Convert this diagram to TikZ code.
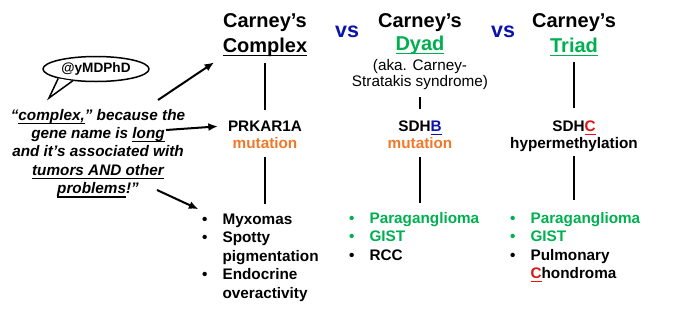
\documentclass[tikz,border=0pt]{standalone}
\usepackage{fontspec}
\setmainfont{Liberation Sans}
\usetikzlibrary{shapes.geometric,arrows.meta}
\definecolor{vsblue}{RGB}{10,20,170}
\definecolor{dyadgreen}{RGB}{0,176,80}
\definecolor{mutorange}{RGB}{240,120,40}
\definecolor{ulred}{RGB}{220,20,20}
\newsavebox{\ulbox}
\newcommand{\ulx}[1]{\sbox\ulbox{#1}\rlap{\rule[-3.9pt]{\wd\ulbox}{1.3pt}}\usebox\ulbox}
\newcommand{\gr}[1]{\textcolor{dyadgreen}{#1}}

\begin{document}
\begin{tikzpicture}[x=1pt,y=-1pt,>={Latex[length=9.5pt,width=8pt]},
    title/.style={font=\bfseries\fontsize{20}{24}\selectfont, anchor=base, inner sep=1pt},
    vs/.style={font=\bfseries\fontsize{21.5}{24}\selectfont, text=vsblue, anchor=base, inner sep=1pt},
    body/.style={font=\bfseries\fontsize{15.3}{18.4}\selectfont, anchor=base, inner sep=1pt},
    note/.style={font=\fontsize{15.3}{18.4}\selectfont, anchor=base, inner sep=1pt},
    list/.style={font=\bfseries\fontsize{15.3}{18.5}\selectfont, anchor=base west, inner sep=0pt},
    link/.style={line width=2.6pt},
    pointer/.style={->, line width=2pt}]
    \useasboundingbox (0,0) rectangle (680,325);

    % SPEECH BUBBLE
    \node (bubble) at (96,69) [ellipse, draw, line width=1.5pt, fill=white, minimum width=106pt, minimum height=25pt, inner sep=0pt, font=\bfseries\fontsize{13.6}{16}\selectfont] {@yMDPhD};
    \coordinate (tail) at (49,98);
    \draw[line width=1.5pt, fill=white, line join=miter] (bubble.194) -- (tail) -- (bubble.207);

    % QUOTE
    \node (quote) at (98,120) [body, font=\bfseries\itshape\fontsize{15.3}{18.4}\selectfont] {\begin{tabular}[t]{@{}c@{}}
      “\ulx{complex,}” because the\\
      gene name is \ulx{long}\\
      and it’s associated with\\
      \ulx{tumors AND other}\\
      \ulx{problems}!”
    \end{tabular}};
    \coordinate (q1) at (158,100);
    \coordinate (q2) at (166,130);
    \coordinate (q3) at (157,190);

    % TITLES
    \node (cc) at (265,27) [title] {Carney’s};
    \node (cx) at (265,52) [title] {\ulx{Complex}};
    \node (vs1) at (347,37) [vs] {vs};
    \node (dc) at (420,27) [title] {Carney’s};
    \node (dx) at (420,50) [title] {\gr{\ulx{Dyad}}};
    \node (aka) at (420,70) [note] {(aka. Carney-};
    \node (aka2) at (420,86) [note] {Stratakis syndrome)};
    \node (vs2) at (503,37) [vs] {vs};
    \node (tc) at (574,27) [title] {Carney’s};
    \node (tx) at (574,52) [title] {\gr{\ulx{Triad}}};

    % GENES
    \node (g1) at (265,131) [body] {PRKAR1A};
    \node (m1) at (265,148) [body, text=mutorange] {mutation};
    \node (g2) at (420,131) [body] {SDH\textcolor{vsblue}{\ulx{B}}};
    \node (m2) at (420,148) [body, text=mutorange] {mutation};
    \node (g3) at (574,131) [body] {SDH\textcolor{ulred}{\ulx{C}}};
    \node (m3) at (574,148) [body] {hypermethylation};

    % LISTS
    \node (l1) at (202,224) [list] {\begin{tabular}[t]{@{}l@{\hspace{15pt}}l@{}}
      \textbullet & Myxomas\\
      \textbullet & Spotty\\
                  & pigmentation\\
      \textbullet & Endocrine\\
                  & overactivity
    \end{tabular}};
    \node (l2) at (349,223) [list] {\begin{tabular}[t]{@{}l@{\hspace{15pt}}l@{}}
      \gr{\textbullet} & \gr{Paraganglioma}\\
      \gr{\textbullet} & \gr{GIST}\\
      \textbullet & RCC
    \end{tabular}};
    \node (l3) at (510,223) [list] {\begin{tabular}[t]{@{}l@{\hspace{15pt}}l@{}}
      \gr{\textbullet} & \gr{Paraganglioma}\\
      \gr{\textbullet} & \gr{GIST}\\
      \textbullet & Pulmonary\\
                  & \textcolor{ulred}{\ulx{C}}hondroma
    \end{tabular}};

    % LINKS
    \draw[link, shorten <=6pt, shorten >=9pt] (cx.south) -- (g1.north);
    \draw[link, shorten <=8pt, shorten >=7pt] (m1.south) -- (l1.north -| m1.south);
    \draw[link, shorten <=7pt, shorten >=10pt] (aka2.south) -- (g2.north);
    \draw[link, shorten <=8pt, shorten >=7pt] (m2.south) -- (l2.north -| m2.south);
    \draw[link, shorten <=5pt, shorten >=11pt] (tx.south) -- (g3.north);
    \draw[link, shorten <=4pt, shorten >=10pt] (m3.south) -- (l3.north -| m3.south);

    % ARROWS
    \draw[pointer, shorten >=9pt] (q1) -- (cx.south west);
    \draw[pointer, shorten >=9pt] (q2) -- (g1.west);
    \draw[pointer, shorten >=4pt] (q3) -- (l1.north west);
\end{tikzpicture}
\end{document}
